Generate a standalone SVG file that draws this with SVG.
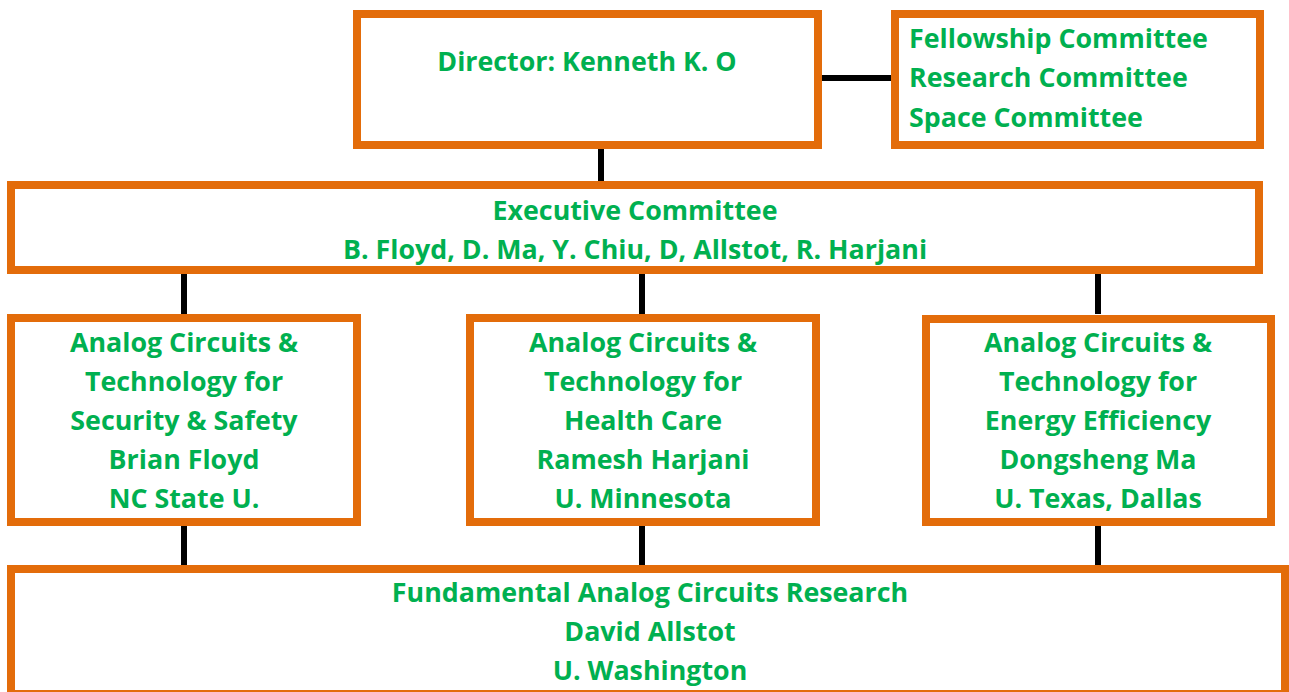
<svg xmlns="http://www.w3.org/2000/svg" width="1289" height="692" viewBox="0 0 1289 692">
<style>
.box{fill:#ffffff;stroke:#E36C0A;stroke-width:8}
.t{font-family:"Open Sans","Noto Sans","Liberation Sans",sans-serif;font-weight:bold;font-size:26.8px;fill:#00B050;text-anchor:middle}
.l{text-anchor:start}
.c{stroke:#000000;stroke-width:6;fill:none}
</style>
<rect width="1289" height="692" fill="#ffffff"/>
<g id="connectors">
<line class="c" x1="601" y1="149" x2="601" y2="181"/>
<line class="c" x1="822" y1="78" x2="891" y2="78"/>
<line class="c" x1="184" y1="274" x2="184" y2="314"/>
<line class="c" x1="642" y1="274" x2="642" y2="314"/>
<line class="c" x1="1098" y1="274" x2="1098" y2="314"/>
<line class="c" x1="184" y1="526" x2="184" y2="565"/>
<line class="c" x1="642" y1="526" x2="642" y2="565"/>
<line class="c" x1="1098" y1="526" x2="1098" y2="565"/>
</g>
<g id="director">
<rect class="box" x="357" y="14" width="461" height="131"/>
<text class="t" x="587" y="71">Director: Kenneth K. O</text>
</g>
<g id="committees">
<rect class="box" x="895" y="14" width="365" height="131"/>
<text class="t l" x="909" y="48">Fellowship Committee</text>
<text class="t l" x="909" y="87">Research Committee</text>
<text class="t l" x="909" y="127">Space Committee</text>
</g>
<g id="executive">
<rect class="box" x="11" y="185" width="1248" height="85"/>
<text class="t" x="635" y="220">Executive Committee</text>
<text class="t" x="635" y="259">B. Floyd, D. Ma, Y. Chiu, D, Allstot, R. Harjani</text>
</g>
<g id="security">
<rect class="box" x="11" y="318" width="346" height="204"/>
<text class="t" x="184" y="352">Analog Circuits &amp;</text>
<text class="t" x="184" y="391">Technology for</text>
<text class="t" x="184" y="430">Security &amp; Safety</text>
<text class="t" x="184" y="469">Brian Floyd</text>
<text class="t" x="184" y="508">NC State U.</text>
</g>
<g id="health">
<rect class="box" x="470" y="318" width="346" height="204"/>
<text class="t" x="643" y="352">Analog Circuits &amp;</text>
<text class="t" x="643" y="391">Technology for</text>
<text class="t" x="643" y="430">Health Care</text>
<text class="t" x="643" y="469">Ramesh Harjani</text>
<text class="t" x="643" y="508">U. Minnesota</text>
</g>
<g id="energy">
<rect class="box" x="926" y="319" width="345" height="203"/>
<text class="t" x="1098" y="352">Analog Circuits &amp;</text>
<text class="t" x="1098" y="391">Technology for</text>
<text class="t" x="1098" y="430">Energy Efficiency</text>
<text class="t" x="1098" y="469">Dongsheng Ma</text>
<text class="t" x="1098" y="508">U. Texas, Dallas</text>
</g>
<g id="fundamental">
<rect class="box" x="11" y="569" width="1274" height="125"/>
<text class="t" x="650" y="602">Fundamental Analog Circuits Research</text>
<text class="t" x="650" y="641">David Allstot</text>
<text class="t" x="650" y="680">U. Washington</text>
</g>
</svg>
